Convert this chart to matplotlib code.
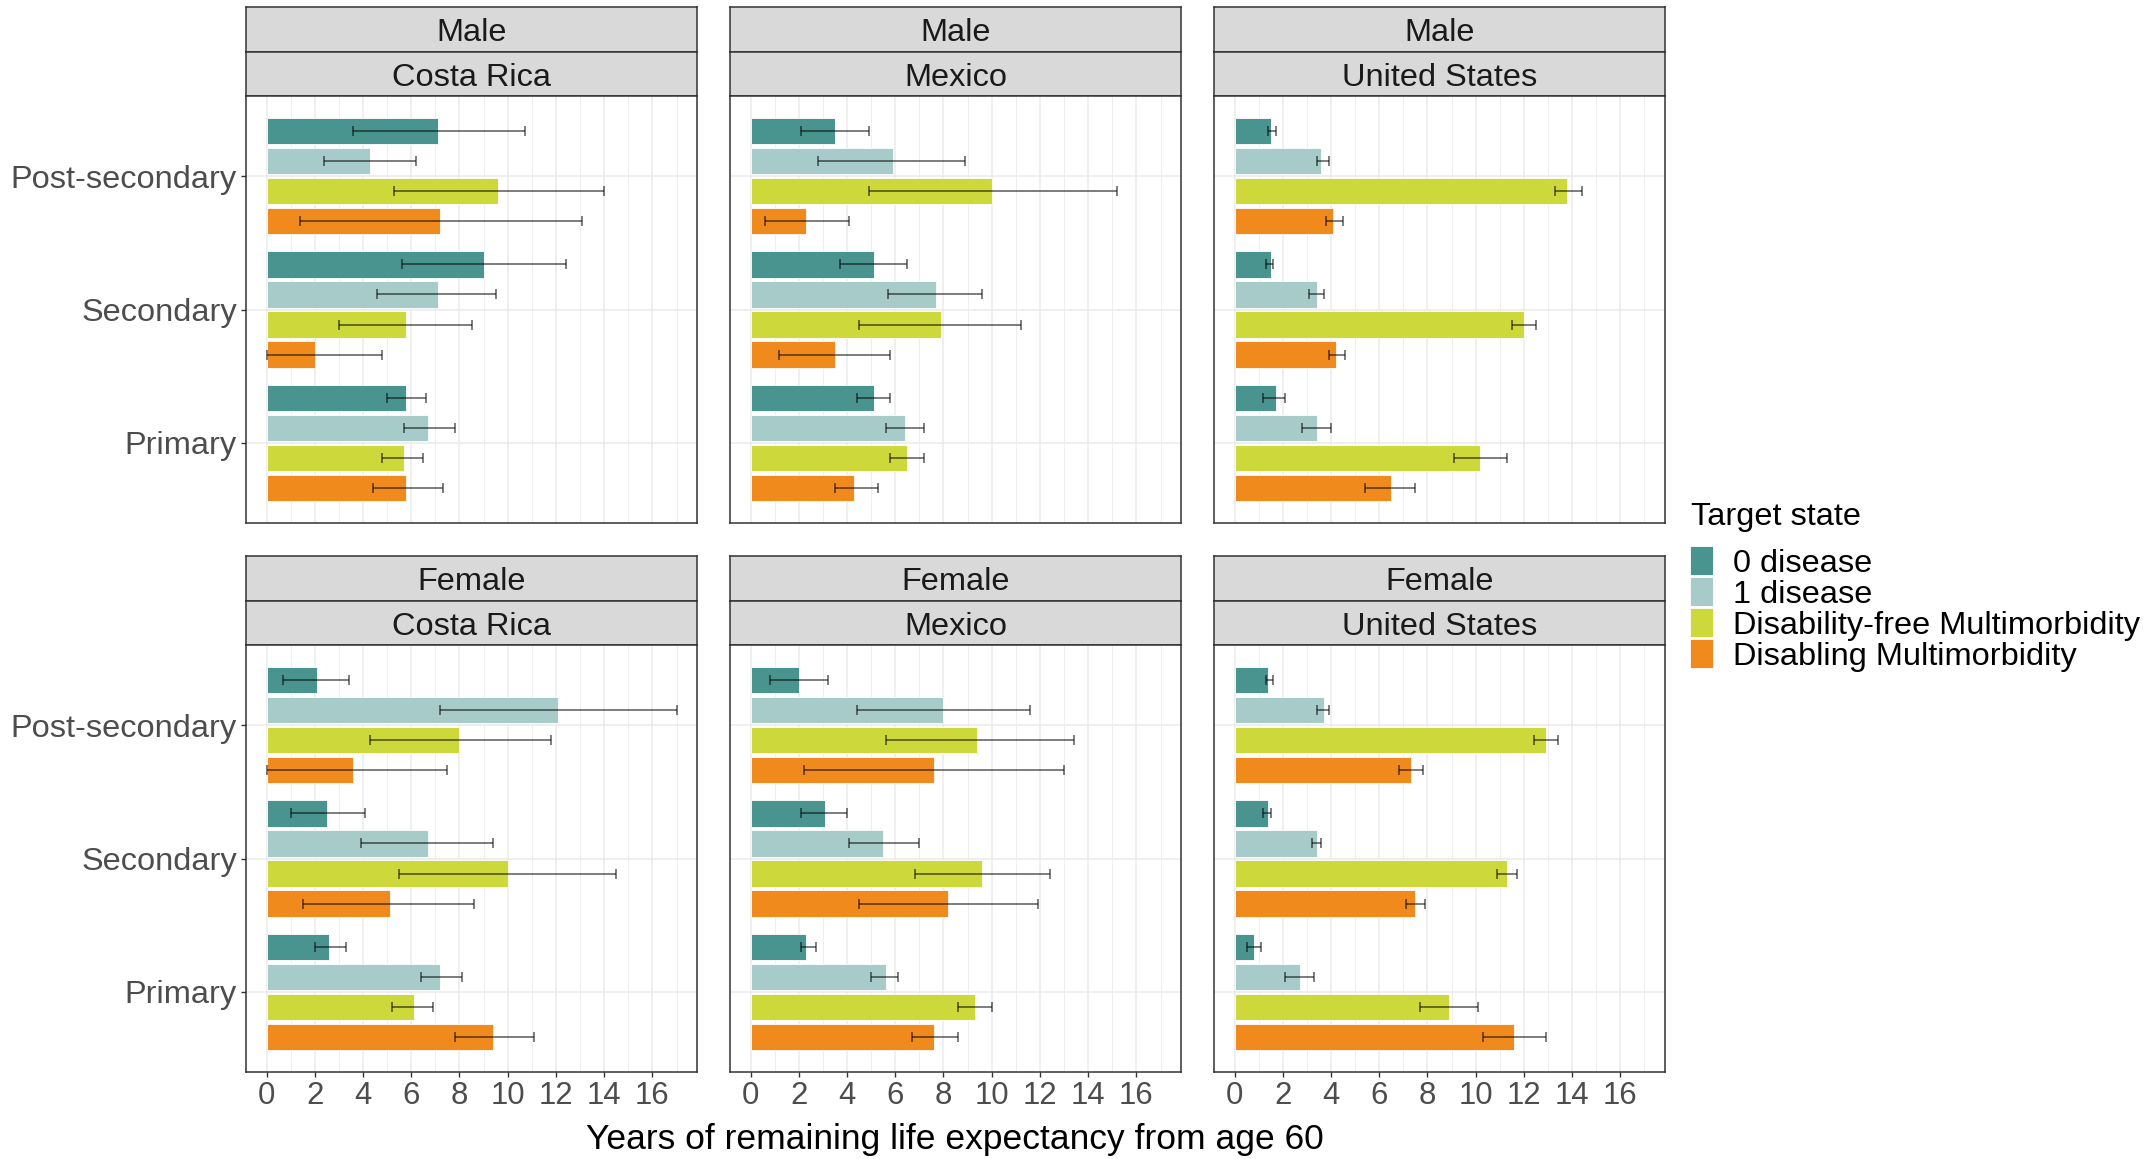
import numpy as np
import matplotlib
matplotlib.use("Agg")
import matplotlib.pyplot as plt
from matplotlib.patches import Rectangle

plt.rcParams['font.family'] = ['Liberation Sans', 'DejaVu Sans']

# ---- data: years of remaining life expectancy from age 60 ----
education = ["Post-secondary", "Secondary", "Primary"]
states = ["0 disease", "1 disease", "Disability-free Multimorbidity", "Disabling Multimorbidity"]
state_colors = ["#4A948F", "#A7CBC8", "#CDD93A", "#F08A1C"]
countries = ["Costa Rica", "Mexico", "United States"]
sexes = ["Male", "Female"]

# rows = education (Post-secondary, Secondary, Primary), cols = states
male_cr_est = [[7.1, 4.3, 9.6, 7.2], [9.0, 7.1, 5.8, 2.0], [5.8, 6.7, 5.7, 5.8]]
male_cr_lo = [[3.6, 2.4, 5.3, 1.4], [5.6, 4.6, 3.0, 0.0], [5.0, 5.7, 4.8, 4.4]]
male_cr_hi = [[10.7, 6.2, 14.0, 13.1], [12.4, 9.5, 8.5, 4.8], [6.6, 7.8, 6.5, 7.3]]

male_mx_est = [[3.5, 5.9, 10.0, 2.3], [5.1, 7.7, 7.9, 3.5], [5.1, 6.4, 6.5, 4.3]]
male_mx_lo = [[2.1, 2.8, 4.9, 0.6], [3.7, 5.7, 4.5, 1.2], [4.4, 5.6, 5.8, 3.5]]
male_mx_hi = [[4.9, 8.9, 15.2, 4.1], [6.5, 9.6, 11.2, 5.8], [5.8, 7.2, 7.2, 5.3]]

male_us_est = [[1.5, 3.6, 13.8, 4.1], [1.5, 3.4, 12.0, 4.2], [1.7, 3.4, 10.2, 6.5]]
male_us_lo = [[1.4, 3.4, 13.3, 3.8], [1.3, 3.1, 11.5, 3.9], [1.2, 2.8, 9.1, 5.4]]
male_us_hi = [[1.7, 3.9, 14.4, 4.5], [1.6, 3.7, 12.5, 4.6], [2.1, 4.0, 11.3, 7.5]]

female_cr_est = [[2.1, 12.1, 8.0, 3.6], [2.5, 6.7, 10.0, 5.1], [2.6, 7.2, 6.1, 9.4]]
female_cr_lo = [[0.7, 7.2, 4.3, 0.0], [1.0, 3.9, 5.5, 1.5], [2.0, 6.4, 5.2, 7.8]]
female_cr_hi = [[3.4, 17.0, 11.8, 7.5], [4.1, 9.4, 14.5, 8.6], [3.3, 8.1, 6.9, 11.1]]

female_mx_est = [[2.0, 8.0, 9.4, 7.6], [3.1, 5.5, 9.6, 8.2], [2.3, 5.6, 9.3, 7.6]]
female_mx_lo = [[0.8, 4.4, 5.6, 2.2], [2.1, 4.1, 6.8, 4.5], [2.1, 5.0, 8.6, 6.7]]
female_mx_hi = [[3.2, 11.6, 13.4, 13.0], [4.0, 7.0, 12.4, 11.9], [2.7, 6.1, 10.0, 8.6]]

female_us_est = [[1.4, 3.7, 12.9, 7.3], [1.4, 3.4, 11.3, 7.5], [0.8, 2.7, 8.9, 11.6]]
female_us_lo = [[1.3, 3.4, 12.4, 6.8], [1.2, 3.2, 10.9, 7.1], [0.5, 2.1, 7.7, 10.3]]
female_us_hi = [[1.6, 3.9, 13.4, 7.8], [1.5, 3.6, 11.7, 7.9], [1.1, 3.3, 10.1, 12.9]]

panels = {
    ("Male", "Costa Rica"): (male_cr_est, male_cr_lo, male_cr_hi),
    ("Male", "Mexico"): (male_mx_est, male_mx_lo, male_mx_hi),
    ("Male", "United States"): (male_us_est, male_us_lo, male_us_hi),
    ("Female", "Costa Rica"): (female_cr_est, female_cr_lo, female_cr_hi),
    ("Female", "Mexico"): (female_mx_est, female_mx_lo, female_mx_hi),
    ("Female", "United States"): (female_us_est, female_us_lo, female_us_hi),
}

W, H = 2144, 1159
fig = plt.figure(figsize=(W / 100, H / 100), dpi=100)

def box(x, y, w, h):
    # pixel box (from top-left) -> figure fraction
    return [x / W, 1 - (y + h) / H, w / W, h / H]

col_x = [246, 730, 1214]
panel_w = 451
row_strip_top = [7, 556]
strip_h = 44.5
panel_h = 427

ypos = np.array([3, 2, 1])  # Post-secondary on top
offsets = [0.3375, 0.1125, -0.1125, -0.3375]
edge = "#333333"
text_dark = "#1A1A1A"
text_grey = "#4D4D4D"

for r, sex in enumerate(sexes):
    for c, country in enumerate(countries):
        est, lo, hi = [np.array(a) for a in panels[(sex, country)]]
        x0 = col_x[c]
        top = row_strip_top[r]

        # two stacked facet strips
        for k, label in enumerate([sex, country]):
            sax = fig.add_axes(box(x0, top + k * strip_h, panel_w, strip_h))
            sax.set_facecolor("#D9D9D9")
            sax.set_xticks([])
            sax.set_yticks([])
            for sp in sax.spines.values():
                sp.set_color(edge)
                sp.set_linewidth(1.1)
            sax.text(0.5, 0.41, label, ha="center", va="center", fontsize=23.4,
                     color=text_dark, transform=sax.transAxes)

        ax = fig.add_axes(box(x0, top + 2 * strip_h, panel_w, panel_h))
        ax.set_xlim(-0.85, 17.85)
        ax.set_ylim(0.4, 3.6)
        ax.set_axisbelow(True)
        for g in range(0, 18):
            ax.axvline(g, color="#EBEBEB", lw=1.1 if g % 2 == 0 else 0.6, zorder=0)
        for yy in ypos:
            ax.axhline(yy, color="#EBEBEB", lw=1.1, zorder=0)

        for j in range(len(states)):
            yy = ypos + offsets[j]
            ax.barh(yy, est[:, j], height=0.2, color=state_colors[j],
                    edgecolor="white", linewidth=0.6, zorder=2)
            ax.errorbar(est[:, j], yy, xerr=[est[:, j] - lo[:, j], hi[:, j] - est[:, j]],
                        fmt="none", ecolor=(0, 0, 0, 0.55), elinewidth=1.3,
                        capsize=3.6, capthick=1.3, zorder=3)

        for sp in ax.spines.values():
            sp.set_color(edge)
            sp.set_linewidth(1.1)

        ax.set_xticks(range(0, 17, 2))
        ax.set_yticks(ypos)
        ax.tick_params(axis="both", color=edge, length=3.5, width=1.0,
                       labelsize=22.4, labelcolor=text_grey, pad=3)
        if r == 0:
            ax.tick_params(axis="x", length=0, labelbottom=False)
        if c == 0:
            ax.set_yticklabels(education, fontsize=23.4)
        else:
            ax.tick_params(axis="y", length=0, labelleft=False)

fig.text(955 / W, 1 - 1139 / H, "Years of remaining life expectancy from age 60",
         ha="center", va="center", fontsize=25.5, color="black")

# legend
fig.text(1691 / W, 1 - 525 / H, "Target state", ha="left", va="baseline",
         fontsize=23.4, color="black")
key_top = 546
for j, (lab, col) in enumerate(zip(states, state_colors)):
    yk = key_top + j * 31
    fig.patches.append(Rectangle((1690 / W, 1 - (yk + 29) / H), 23 / W, 29 / H,
                                 transform=fig.transFigure, facecolor=col,
                                 edgecolor="white", linewidth=0.6))
    fig.text(1733 / W, 1 - (yk + 18) / H, lab, ha="left", va="center",
             fontsize=23.4, color="black")

fig.savefig("out.png", dpi=100)
